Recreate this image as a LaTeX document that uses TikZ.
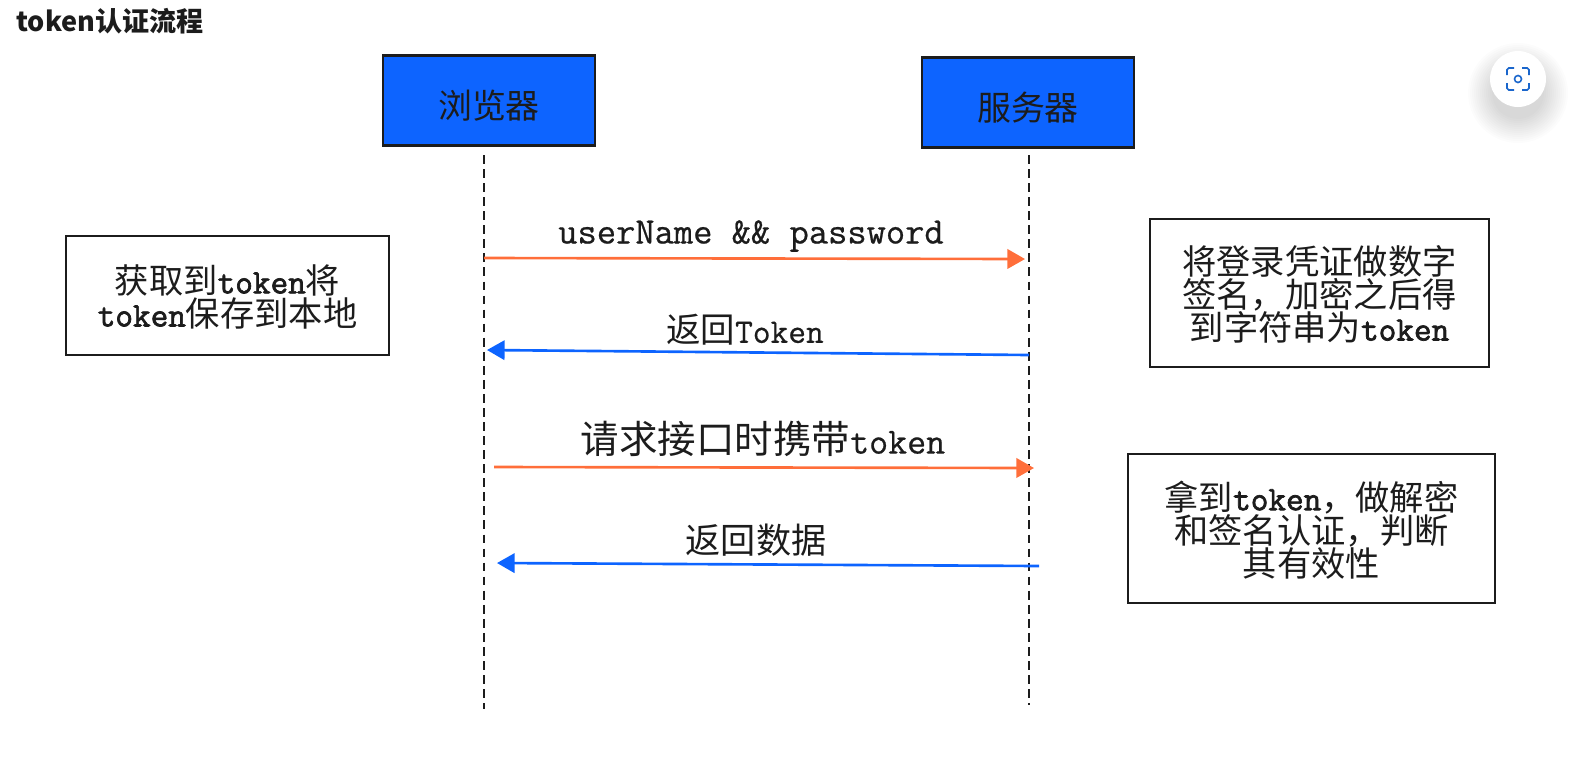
\documentclass[tikz,border=0pt]{standalone}
\usepackage{fontspec}
\usepackage{tikz}
\usetikzlibrary{arrows.meta,positioning,calc}
\newfontfamily\cjk{Noto Sans CJK SC}
\newfontfamily\lat[FakeBold=0.6]{Latin Modern Mono}
\newfontfamily\latb[FakeBold=2]{Latin Modern Mono}
\definecolor{boxBlue}{HTML}{0D64FF}
\definecolor{reqOrange}{HTML}{FF6E3A}
\definecolor{inkDark}{HTML}{1C1C1C}
\definecolor{iconBlue}{HTML}{1A66CC}

\begin{document}
\begin{tikzpicture}[x=0.02cm,y=-0.02cm,
  actor/.style={rectangle,draw=inkDark,fill=boxBlue,line width=1.5pt,minimum width=42.4mm,minimum height=17.9mm,font=\fontsize{19.3}{22}\cjk,text=inkDark,text height=21.5pt},
  note/.style={rectangle,draw=inkDark,fill=white,line width=1.3pt,align=center,font=\fontsize{19.5}{18.8}\cjk,text=inkDark,inner sep=0pt,text depth=-3.7pt},
  msg/.style={inner sep=0pt,text=inkDark},
  lifeline/.style={draw=inkDark,line width=1.5pt,dash pattern=on 5pt off 3pt},
  req/.style={draw=reqOrange,line width=1.5pt,-{Triangle[length=10pt,width=11pt]}},
  resp/.style={draw=boxBlue,line width=1.5pt,-{Triangle[length=10pt,width=11pt]}},
  halo/.style={circle,inner sep=0pt,fill=black}
]
\useasboundingbox (0,0) rectangle (1588,772);
\newcommand{\tk}[1]{{\latb #1}}
% lifeline ends
\coordinate (b1) at (484,155);   \coordinate (b2) at (484,709);
\coordinate (s1) at (1029,155);  \coordinate (s2) at (1029,705);
% message ends
\coordinate (m1a) at (484,258);  \coordinate (m1b) at (1025,259);
\coordinate (m2a) at (1029,355); \coordinate (m2b) at (487,350);
\coordinate (m3a) at (494,467);  \coordinate (m3b) at (1034,468);
\coordinate (m4a) at (1039,566); \coordinate (m4b) at (497,563);

\node[anchor=west,inner sep=0pt,text=inkDark,font=\fontsize{15.4}{18}\cjk\bfseries] (title) at (16,21) {token认证流程};

\node[actor] (browser) at (489,100.5) {浏览器};
\node[actor] (server) at (1028,102.5) {服务器};

\draw[lifeline] (b1) -- (b2);
\draw[lifeline] (s1) -- (s2);

\draw[req] (m1a) -- (m1b);
\draw[resp] (m2a) -- (m2b);
\draw[req] (m3a) -- (m3b);
\draw[resp] (m4a) -- (m4b);

\node[msg,font=\fontsize{21.3}{24}\lat] (lbl1) at (751,236) {userName \&\& password};
\node[msg,font=\fontsize{19.6}{24}\cjk] (lbl2) at (745,330) {返回{\fontsize{19.6}{24}\lat Token}};
\node[msg,font=\fontsize{21.9}{24}\cjk] (lbl3) at (763,439) {请求接口时携带{\fontsize{21}{24}\lat token}};
\node[msg,font=\fontsize{20}{24}\cjk] (lbl4) at (756,540) {返回数据};

\node[note,minimum width=64.6mm,minimum height=23.8mm] (saved) at (227.5,295.5) {获取到\tk{token}将\\\tk{token}保存到本地};
\node[note,minimum width=67.8mm,minimum height=29.6mm] (signed) at (1319.5,293) {将登录凭证做数字\\签名，加密之后得\\到字符串为\tk{token}};
\node[note,minimum width=73.4mm,minimum height=29.8mm,text depth=-6pt] (check) at (1311.5,528.5) {拿到\tk{token}，做解密\\和签名认证，判断\\其有效性};

% floating button
\foreach \r in {26,28,...,50}
  \node[halo,minimum size=2*\r*0.2mm,opacity=0.012] at (1518,93) {};
\node[circle,fill=white,inner sep=0pt,minimum size=11.2mm] (shot) at (1518,79) {};
\foreach \sx/\sy in {-1/-1,1/-1,1/1,-1/1}
  \draw[iconBlue,line width=0.9pt,rounded corners=1pt] ($(shot)+(\sx*11,\sy*4)$) -- ($(shot)+(\sx*11,\sy*11)$) -- ($(shot)+(\sx*4,\sy*11)$);
\draw[iconBlue,line width=0.9pt] (shot) circle[radius=3.5];
\end{tikzpicture}
\end{document}
